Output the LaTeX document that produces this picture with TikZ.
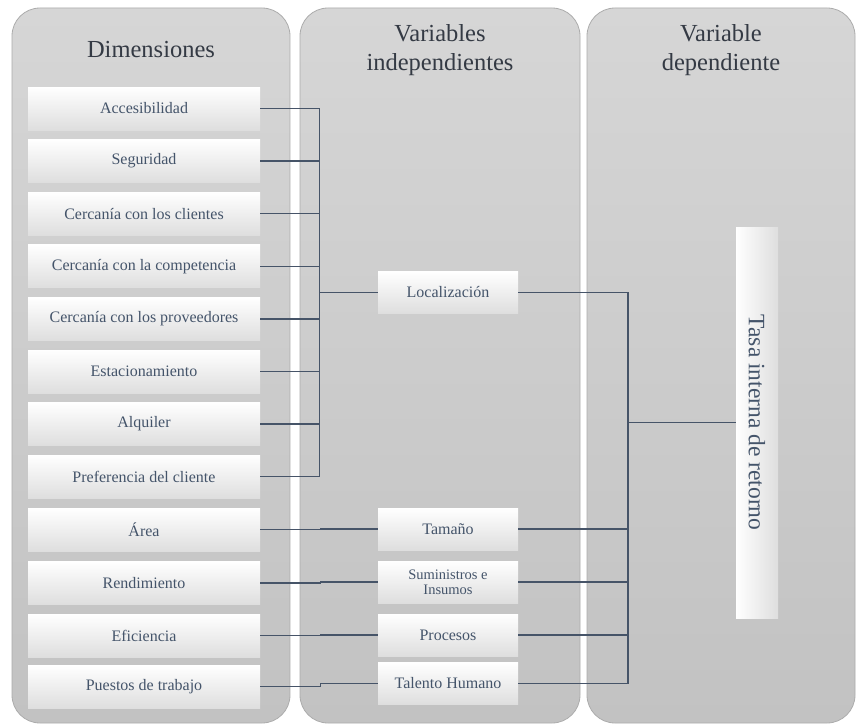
\documentclass[tikz,border=0pt]{standalone}
\usepackage{fontspec}
\setmainfont{Liberation Serif}
\definecolor{panelTop}{RGB}{214,214,214}
\definecolor{panelBot}{RGB}{194,194,194}
\definecolor{panelEdge}{RGB}{172,172,172}
\definecolor{boxBot}{RGB}{222,222,222}
\definecolor{txt}{RGB}{68,84,106}
\definecolor{headtxt}{RGB}{52,58,68}
\definecolor{lineC}{RGB}{70,84,104}
\tikzset{
  panel/.style={rounded corners=28pt, top color=panelTop, bottom color=panelBot, draw=panelEdge, line width=0.8pt},
  head/.style={align=center, text=headtxt, font=\fontsize{24.5}{29}\selectfont},
  dimbox/.style={rectangle, top color=white, bottom color=boxBot, text=txt,
    minimum width=232pt, minimum height=43pt, inner sep=0pt, font=\fontsize{16}{17}\selectfont},
  varbox/.style={rectangle, top color=white, bottom color=boxBot, text=txt, align=center,
    minimum width=140pt, minimum height=42pt, inner sep=0pt, font=\fontsize{16}{17}\selectfont},
  link/.style={draw=lineC, line width=1.3pt},
}
\begin{document}
\begin{tikzpicture}[x=1pt, y=-1pt]
\useasboundingbox (0,0) rectangle (856,725);
\fill[white] (0,0) rectangle (856,725);

% three column panels
\shade[panel] (12,8) rectangle (290,723);
\shade[panel] (300,8) rectangle (580,723);
\shade[panel] (587,8) rectangle (855,723);

% column headings
\node[head] (h1) at (151,50) {Dimensiones};
\node[head] (h2) at (440,50) {Variables\\independientes};
\node[head] (h3) at (721,50) {Variable\\dependiente};

% dimensions
\node[dimbox] (d1)  at (144,108.5) {Accesibilidad};
\node[dimbox] (d2)  at (144,161.1) {Seguridad};
\node[dimbox] (d3)  at (144,213.7) {Cercanía con los clientes};
\node[dimbox] (d4)  at (144,266.3) {Cercanía con la competencia};
\node[dimbox] (d5)  at (144,318.9) {Cercanía con los proveedores};
\node[dimbox] (d6)  at (144,371.5) {Estacionamiento};
\node[dimbox] (d7)  at (144,424.1) {Alquiler};
\node[dimbox] (d8)  at (144,476.7) {Preferencia del cliente};
\node[dimbox] (d9)  at (144,529.8) {Área};
\node[dimbox] (d10) at (144,582.9) {Rendimiento};
\node[dimbox] (d11) at (144,635.5) {Eficiencia};
\node[dimbox] (d12) at (144,686.5) {Puestos de trabajo};

% independent variables
\node[varbox] (loc) at (448,292.5) {Localización};
\node[varbox] (tam) at (448,529) {Tamaño};
\node[varbox, font=\fontsize{14.5}{15}\selectfont] (sum) at (448,582) {Suministros e\\Insumos};
\node[varbox] (pro) at (448,635) {Procesos};
\node[varbox] (tal) at (448,683.5) {Talento Humano};

% dependent variable (vertical bar, text reading downwards)
\node[rectangle, rotate=-90, left color=white, right color=boxBot, text=txt,
  minimum width=391pt, minimum height=42pt, inner sep=0pt,
  font=\fontsize{23.5}{25}\selectfont] (tasa) at (757,422.5) {Tasa interna de retorno};

% bus positions
\coordinate (lb) at (319.5,292.5);
\coordinate (rb) at (628,292.5);

% dimensions of location feed a common bus
\foreach \k in {1,...,8} {
  \draw[link] (d\k.east) -- (d\k.east -| lb);
}
\draw[link] (d1.east -| lb) -- (d8.east -| lb);
\draw[link] (lb) -- (loc.west);

% single dimension per variable
\draw[link] (d9.east)  -- ++(60,0) |- (tam.west);
\draw[link] (d10.east) -- ++(60,0) |- (sum.west);
\draw[link] (d11.east) -- ++(60,0) |- (pro.west);
\draw[link] (d12.east) -- ++(60,0) |- (tal.west);

% independent variables to the dependent one
\draw[link] (loc.east) -- (rb) -- (rb |- tal.east) -- (tal.east);
\draw[link] (tam.east) -- (tam.east -| rb);
\draw[link] (sum.east) -- (sum.east -| rb);
\draw[link] (pro.east) -- (pro.east -| rb);
\draw[link] (tasa.south) -- (tasa.south -| rb);
\end{tikzpicture}
\end{document}
